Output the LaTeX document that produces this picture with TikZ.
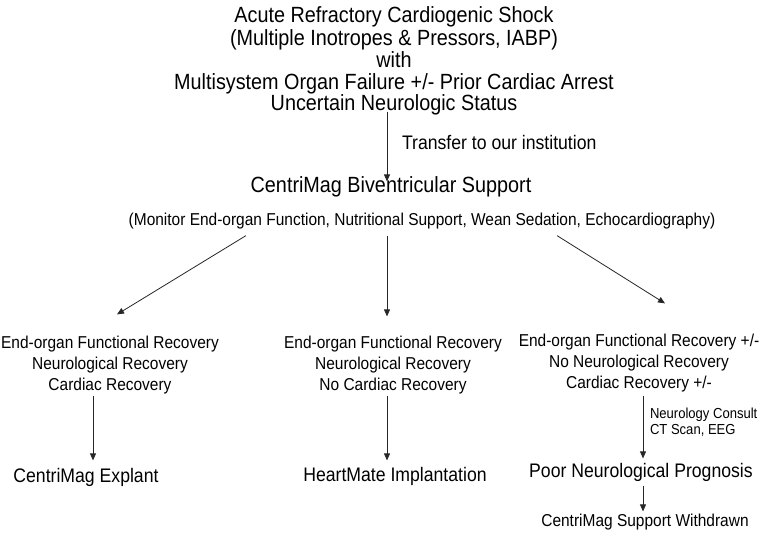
\documentclass[tikz,border=0pt]{standalone}
\usepackage{fontspec}
\setmainfont[FakeStretch=0.9]{Liberation Sans}
\usetikzlibrary{arrows.meta}
\tikzset{
  txt/.style={inner sep=0pt, outer sep=0pt, text height=.72em, text depth=0pt, anchor=center},
  big/.style={txt, font=\fontsize{22}{26}\selectfont},
  mid/.style={txt, font=\fontsize{19.6}{23}\selectfont},
  sml/.style={txt, font=\fontsize{17.2}{21}\selectfont},
  tiny/.style={txt, font=\fontsize{14.5}{17}\selectfont},
  arr/.style={draw=black!85, line width=0.8pt, -{Triangle[length=7pt,width=6pt]}}
}
\begin{document}
\begin{tikzpicture}[x=1pt,y=-1pt]
\useasboundingbox[fill=white] (0,0) rectangle (760,534);
% title block
\node[big] (t1) at (394,19) {Acute Refractory Cardiogenic Shock};
\node[big] (t2) at (394,42) {(Multiple Inotropes \& Pressors, IABP)};
\node[big] (t3) at (394,64) {with};
\node[big] (t4) at (394,86) {Multisystem Organ Failure +/- Prior Cardiac Arrest};
\node[big] (t5) at (394,107) {Uncertain Neurologic Status};
\node[mid, anchor=west] (tr) at (402,146) {Transfer to our institution};
\node[big] (cbs) at (391,189) {CentriMag Biventricular Support};
\node[sml] (mon) at (422,222) {(Monitor End-organ Function, Nutritional Support, Wean Sedation, Echocardiography)};
% left branch
\node[sml] (l1) at (110,345) {End-organ Functional Recovery};
\node[sml] (l2) at (110,366) {Neurological Recovery};
\node[sml] (l3) at (110,387) {Cardiac Recovery};
\node[mid] (ex) at (86,479) {CentriMag Explant};
% middle branch
\node[sml] (m1) at (393,345) {End-organ Functional Recovery};
\node[sml] (m2) at (393,366) {Neurological Recovery};
\node[sml] (m3) at (393,387) {No Cardiac Recovery};
\node[mid] (hm) at (395,478) {HeartMate Implantation};
% right branch
\node[sml] (r1) at (639,343) {End-organ Functional Recovery +/-};
\node[sml] (r2) at (639,364) {No Neurological Recovery};
\node[sml] (r3) at (639,385) {Cardiac Recovery +/-};
\node[tiny, anchor=west] (nc1) at (650,415) {Neurology Consult};
\node[tiny, anchor=west] (nc2) at (650,431) {CT Scan, EEG};
\node[mid] (pn) at (641,474) {Poor Neurological Prognosis};
\node[sml] (wd) at (645,523) {CentriMag Support Withdrawn};
% connectors
\draw[arr] ([xshift=-7pt,yshift=-1pt]t5.south) -- ([xshift=-4pt,yshift=4pt]cbs.north);
\draw[arr] ([xshift=-176pt,yshift=-10pt]mon.south) -- ([xshift=7pt,yshift=27pt]l1.north);
\draw[arr] ([xshift=-35pt,yshift=-10pt]mon.south) -- ([xshift=-6pt,yshift=25pt]m1.north);
\draw[arr] ([xshift=135pt,yshift=-10pt]mon.south) -- ([xshift=26pt,yshift=36pt]r1.north);
\draw[arr] ([xshift=-17pt,yshift=-5pt]l3.south) -- ([xshift=7pt,yshift=15pt]ex.north);
\draw[arr] ([xshift=-6pt,yshift=-5pt]m3.south) -- ([xshift=-8pt,yshift=14pt]hm.north);
\draw[arr] ([xshift=4pt,yshift=-7pt]r3.south) -- ([xshift=2pt,yshift=12pt]pn.north);
\draw[arr] ([xshift=2pt,yshift=-8pt]pn.south) -- ([xshift=-2pt,yshift=8pt]wd.north);
\end{tikzpicture}
\end{document}
